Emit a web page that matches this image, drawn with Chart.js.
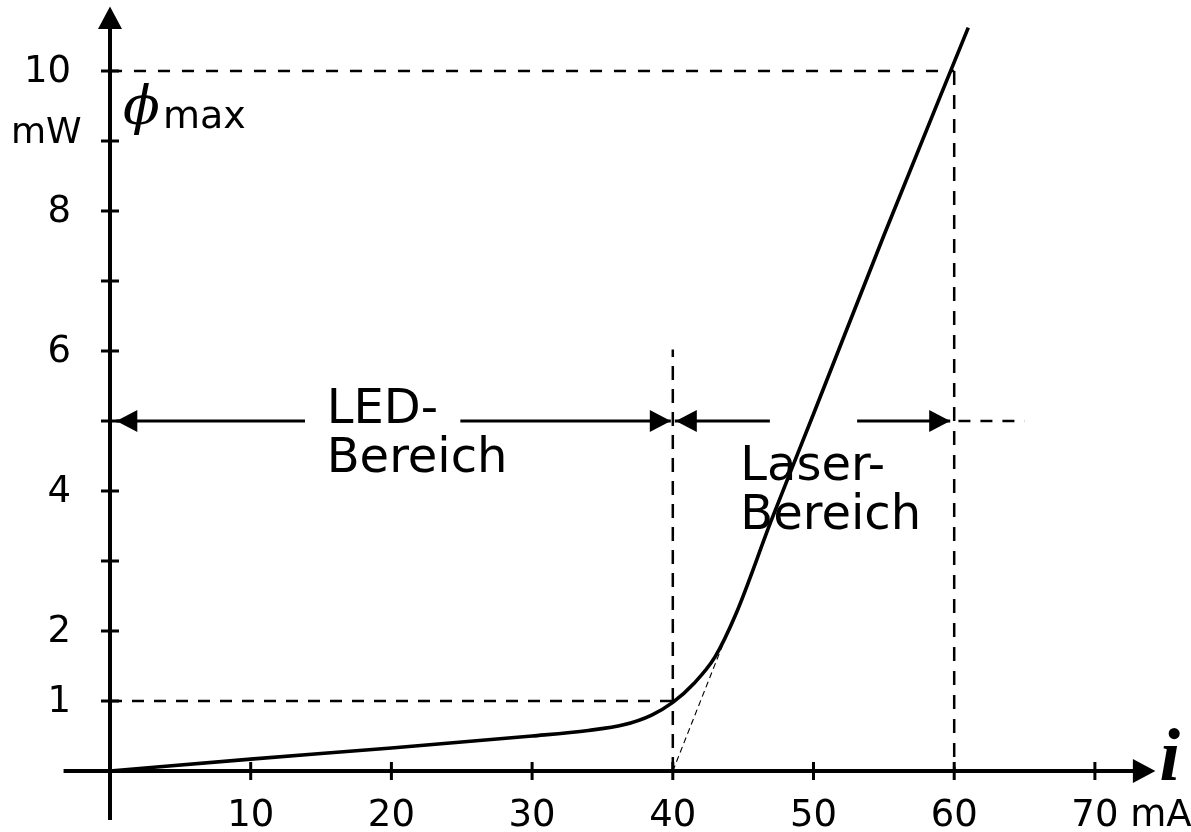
<!DOCTYPE html>
<html>
<head>
<meta charset="utf-8">
<script src="https://cdn.jsdelivr.net/npm/chart.js@4"></script>
<style>
  html, body { margin: 0; padding: 0; background: #fff; }
  #wrap { width: 1191px; height: 832px; }
</style>
</head>
<body>
<div id="wrap"><canvas id="chart"></canvas></div>
<script>
// laser diode characteristic: current (mA) vs. optical power (mW)
const currentMA = [0, 10, 20, 30, 34, 36.5, 38.5, 40, 41.5, 43, 44.5, 47, 50, 55, 61];
const powerMW = [0, 0.17, 0.33, 0.5, 0.58, 0.66, 0.8, 0.98, 1.25, 1.63, 2.25, 3.58, 5.1, 7.65, 10.62];

const xTicks = [10, 20, 30, 40, 50, 60, 70];
const xTickLabels = ["10", "20", "30", "40", "50", "60", "70"];
const xUnit = "mA";
const yTicks = [1, 2, 3, 4, 5, 6, 7, 8, 9, 10];
const yLabelValues = [1, 2, 4, 6, 8, 10];
const yUnit = "mW";

// reference values
const thresholdCurrent = 40;
const ledPower = 1;
const maxCurrent = 60;
const maxPower = 10;
const rangeArrowPower = 5;

const pts = (xs, ys) => xs.map((v, i) => ({ x: v, y: ys[i] }));

const dashed = (data, width, dash) => ({
  data,
  borderColor: "#000",
  borderWidth: width,
  borderDash: dash,
  pointRadius: 0,
  tension: 0,
});

const ctx = document.querySelector("#chart").getContext("2d");

const axesPlugin = {
  id: "axes",
  beforeDatasetsDraw(chart) {
    const c = chart.ctx;
    const { x, y } = chart.scales;
    const px = (v) => x.getPixelForValue(v);
    const py = (v) => y.getPixelForValue(v);
    c.save();
    c.strokeStyle = "#000";
    c.fillStyle = "#000";
    c.lineWidth = 4;
    c.beginPath();
    c.moveTo(px(0), py(-0.7));
    c.lineTo(px(0), py(10.66));
    c.moveTo(px(-3.3), py(0));
    c.lineTo(px(72.85), py(0));
    c.stroke();
    // arrow heads
    c.beginPath();
    c.moveTo(px(0), py(10.92));
    c.lineTo(px(0) - 12, py(10.6));
    c.lineTo(px(0) + 12, py(10.6));
    c.closePath();
    c.fill();
    c.beginPath();
    c.moveTo(px(74.3), py(0));
    c.lineTo(px(72.7), py(0) - 12);
    c.lineTo(px(72.7), py(0) + 12);
    c.closePath();
    c.fill();
    // ticks
    c.lineWidth = 3;
    c.beginPath();
    xTicks.forEach((t) => {
      c.moveTo(px(t), py(0) - 9);
      c.lineTo(px(t), py(0) + 9);
    });
    yTicks.forEach((t) => {
      c.moveTo(px(0) - 9, py(t));
      c.lineTo(px(0) + 9, py(t));
    });
    c.stroke();
    // tick labels
    c.font = "37px 'DejaVu Sans'";
    c.textBaseline = "middle";
    xTicks.forEach((t, i) => {
      const lbl = xTickLabels[i];
      const w = c.measureText(lbl).width;
      c.textAlign = "left";
      c.fillText(i === xTicks.length - 1 ? lbl + " " + xUnit : lbl, px(t) - w / 2, py(0) + 45);
    });
    c.textAlign = "right";
    yLabelValues.forEach((t) => c.fillText(String(t), px(0) - 39, py(t) + 1));
    c.textAlign = "left";
    c.font = "36px 'DejaVu Sans'";
    c.fillText(yUnit, px(0) - 99, py(9.1));
    c.restore();
  },
  afterDatasetsDraw(chart) {
    const c = chart.ctx;
    const { x, y } = chart.scales;
    const px = (v) => x.getPixelForValue(v);
    const py = (v) => y.getPixelForValue(v);
    const yy = py(rangeArrowPower);
    const head = (tipX, dir) => {
      c.beginPath();
      c.moveTo(tipX, yy);
      c.lineTo(tipX - dir * 21, yy - 11);
      c.lineTo(tipX - dir * 21, yy + 11);
      c.closePath();
      c.fill();
    };
    c.save();
    c.strokeStyle = "#000";
    c.fillStyle = "#000";
    c.lineWidth = 2.8;
    c.beginPath();
    c.moveTo(px(0.45), yy);
    c.lineTo(px(13.86), yy);
    c.moveTo(px(24.9), yy);
    c.lineTo(px(thresholdCurrent) - 2, yy);
    c.moveTo(px(thresholdCurrent) + 2, yy);
    c.lineTo(px(46.9), yy);
    c.moveTo(px(53.1), yy);
    c.lineTo(px(maxCurrent) - 4, yy);
    c.stroke();
    head(px(0.45), -1);
    head(px(thresholdCurrent) - 2, 1);
    head(px(thresholdCurrent) + 3, -1);
    head(px(maxCurrent) - 4, 1);

    c.font = "48px 'DejaVu Sans'";
    c.textAlign = "left";
    c.textBaseline = "alphabetic";
    c.fillText("LED-", px(15.4), 423);
    c.fillText("Bereich", px(15.4), 472);
    c.fillText("Laser-", px(44.8), 480);
    c.fillText("Bereich", px(44.8), 529);

    // axis titles
    c.font = "italic 54px 'DejaVu Serif'";
    c.fillText("\u03D5", px(0) + 13, py(9.24));
    c.font = "38px 'DejaVu Sans'";
    c.fillText("max", px(0) + 53, py(9.19));
    c.font = "bold italic 74px 'Liberation Serif'";
    c.fillText("i", px(74.6), py(0) + 9);
    c.restore();
  },
};

new Chart(ctx, {
  type: "line",
  data: {
    datasets: [
      {
        label: "P(i)",
        data: pts(currentMA, powerMW),
        borderColor: "#000",
        borderWidth: 3.6,
        pointRadius: 0,
        cubicInterpolationMode: "monotone",
      },
      dashed(pts([0, thresholdCurrent], [ledPower, ledPower]), 2.5, [12, 10]),
      dashed(pts([thresholdCurrent, thresholdCurrent], [0, 6.02]), 2.5, [14, 9]),
      dashed(pts([0, maxCurrent], [maxPower, maxPower]), 2.5, [12, 12]),
      dashed(pts([maxCurrent, maxCurrent], [maxPower, 0]), 2.5, [14, 10]),
      dashed(pts([maxCurrent + 0.3, 65], [rangeArrowPower, rangeArrowPower]), 2.5, [12, 10]),
      dashed(pts([thresholdCurrent, 43.8], [0, 1.93]), 1.1, [6, 4]),
    ],
  },
  options: {
    responsive: true,
    maintainAspectRatio: false,
    animation: false,
    devicePixelRatio: 1,
    layout: { padding: 0 },
    plugins: { legend: { display: false }, tooltip: { enabled: false } },
    scales: {
      x: { type: "linear", display: false, min: -7.818, max: 76.83 },
      y: { type: "linear", display: false, min: -0.871, max: 11.014 },
    },
  },
  plugins: [axesPlugin],
});
</script>
</body>
</html>
